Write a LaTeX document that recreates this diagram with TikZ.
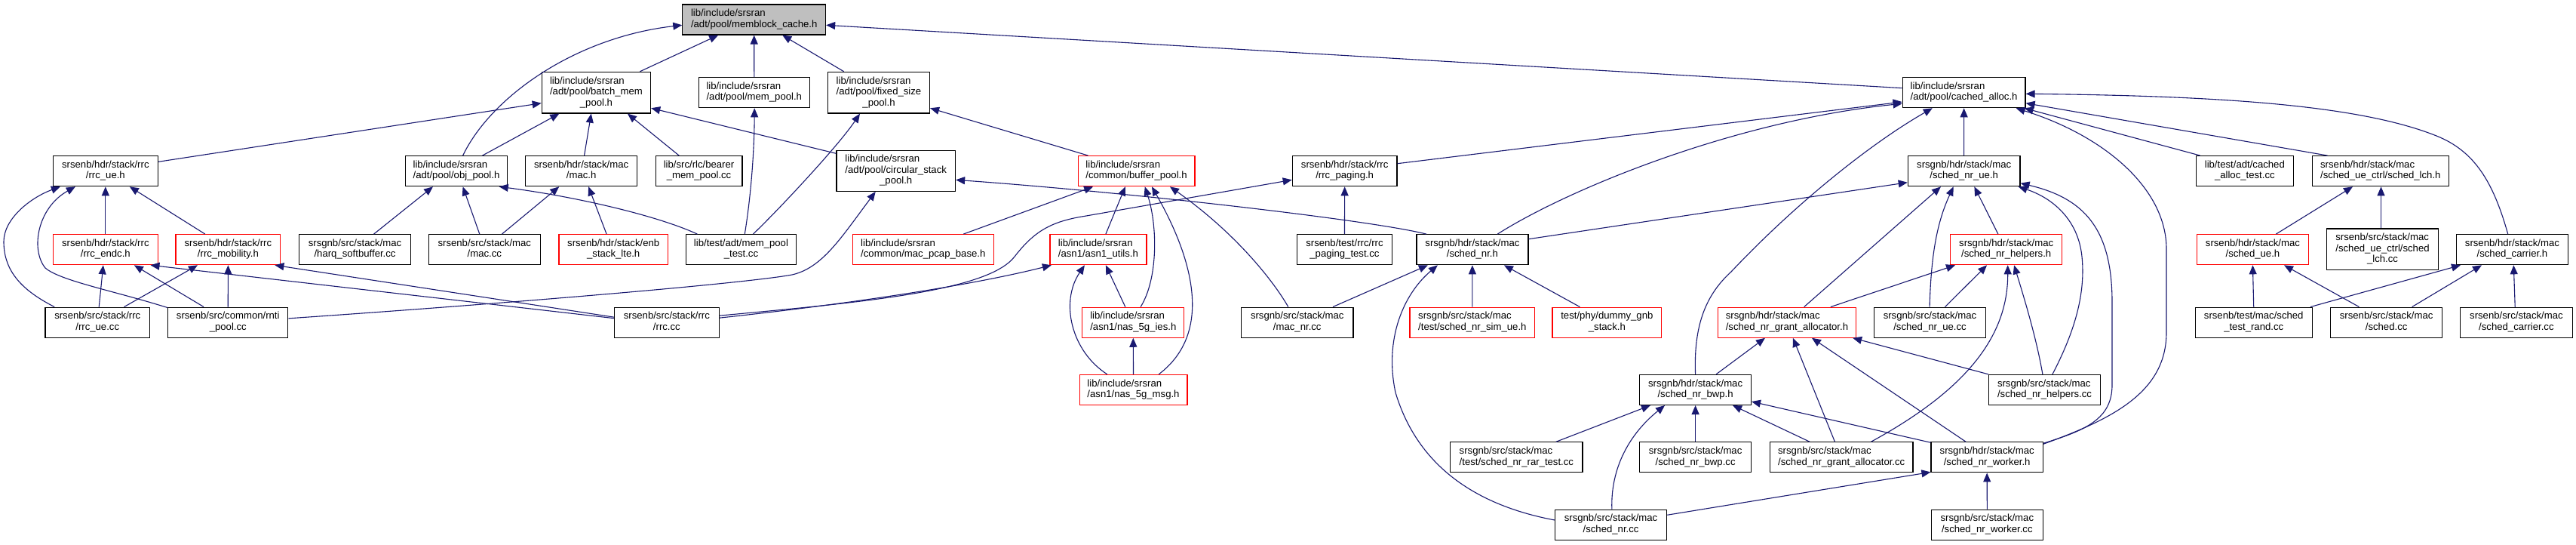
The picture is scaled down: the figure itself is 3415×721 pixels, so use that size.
\documentclass[tikz,border=0pt]{standalone}
\usepackage{fontspec}
\setmainfont{Liberation Sans}
\usetikzlibrary{arrows.meta,calc}
\definecolor{edgecol}{RGB}{25,25,112}
\definecolor{greyfill}{RGB}{191,191,191}
\newcommand\lbltwo[2]{\begin{tabular}{@{}l@{}}#1\\\multicolumn{1}{@{}c@{}}{#2}\end{tabular}}
\newcommand\lblthree[3]{\begin{tabular}{@{}l@{}}#1\\#2\\\multicolumn{1}{@{}c@{}}{#3}\end{tabular}}
\tikzset{
  box/.style={rectangle, draw=black, fill=white, line width=1.2pt, inner sep=0pt,
    minimum height=40pt, align=center, font=\fontsize{13.15}{14.5}\selectfont},
  redbox/.style={box, draw=red},
  greybox/.style={box, fill=greyfill},
  tall/.style={minimum height=54.7pt},
  edge/.style={draw=edgecol, line width=1.1pt, -{Triangle[length=12pt,width=10pt]}, fill=none},
}
\begin{document}
\begin{tikzpicture}[x=1pt,y=-1pt]
\fill[white] (0,0) rectangle (3415,721);
\useasboundingbox (0,0) rectangle (3415,721);

% row 0
\node[greybox, minimum width=189.7pt] (memblock) at (999.7,26) {\lbltwo{lib/include/srsran}{/adt/pool/memblock\_cache.h}};
% row 1
\node[box, tall, minimum width=144.3pt] (batch) at (790.45,122.65) {\lblthree{lib/include/srsran}{/adt/pool/batch\_mem}{\_pool.h}};
\node[box, minimum width=147.2pt] (mempool) at (999.8,122.7) {\lbltwo{lib/include/srsran}{/adt/pool/mem\_pool.h}};
\node[box, tall, minimum width=135pt] (fixed) at (1165,122.65) {\lblthree{lib/include/srsran}{/adt/pool/fixed\_size}{\_pool.h}};
\node[box, minimum width=162.8pt] (cached) at (2603.6,122.7) {\lbltwo{lib/include/srsran}{/adt/pool/cached\_alloc.h}};
% row 2
\node[box, minimum width=139.1pt] (rrcueh) at (139.85,226.7) {\lbltwo{srsenb/hdr/stack/rrc}{/rrc\_ue.h}};
\node[box, minimum width=135pt] (objpool) at (605,226.7) {\lbltwo{lib/include/srsran}{/adt/pool/obj\_pool.h}};
\node[box, minimum width=148.3pt] (mach) at (770.65,226.7) {\lbltwo{srsenb/hdr/stack/mac}{/mac.h}};
\node[box, minimum width=114.7pt] (bearer) at (926.55,226.7) {\lbltwo{lib/src/rlc/bearer}{\_mem\_pool.cc}};
\node[box, minimum width=157.6pt, minimum height=54pt] (circ) at (1187.7,226.3) {\lblthree{lib/include/srsran}{/adt/pool/circular\_stack}{\_pool.h}};
\node[redbox, minimum width=154.7pt] (bufpool) at (1506.55,226.7) {\lbltwo{lib/include/srsran}{/common/buffer\_pool.h}};
\node[box, minimum width=138.7pt] (paging) at (1782.65,226.7) {\lbltwo{srsenb/hdr/stack/rrc}{/rrc\_paging.h}};
\node[box, minimum width=148.7pt] (nrue) at (2603.65,226.7) {\lbltwo{srsgnb/hdr/stack/mac}{/sched\_nr\_ue.h}};
\node[box, minimum width=129.4pt] (catest) at (2975.8,226.7) {\lbltwo{lib/test/adt/cached}{\_alloc\_test.cc}};
\node[box, minimum width=181.4pt] (lchh) at (3155.8,226.7) {\lbltwo{srsenb/hdr/stack/mac}{/sched\_ue\_ctrl/sched\_lch.h}};
% row 3
\node[redbox, minimum width=139.1pt] (endc) at (139.85,330.7) {\lbltwo{srsenb/hdr/stack/rrc}{/rrc\_endc.h}};
\node[redbox, minimum width=138.8pt] (mobility) at (302.4,330.7) {\lbltwo{srsenb/hdr/stack/rrc}{/rrc\_mobility.h}};
\node[box, minimum width=147.9pt] (harq) at (470.55,330.7) {\lbltwo{srsgnb/src/stack/mac}{/harq\_softbuffer.cc}};
\node[box, minimum width=148.4pt] (maccc) at (642.3,330.7) {\lbltwo{srsenb/src/stack/mac}{/mac.cc}};
\node[redbox, minimum width=144.6pt] (enbstack) at (813.2,330.7) {\lbltwo{srsenb/hdr/stack/enb}{\_stack\_lte.h}};
\node[box, minimum width=146.5pt] (mptest) at (982.45,330.7) {\lbltwo{lib/test/adt/mem\_pool}{\_test.cc}};
\node[redbox, minimum width=186.8pt] (pcap) at (1223.8,330.7) {\lbltwo{lib/include/srsran}{/common/mac\_pcap\_base.h}};
\node[redbox, minimum width=128pt] (asn1) at (1455.9,330.7) {\lbltwo{lib/include/srsran}{/asn1/asn1\_utils.h}};
\node[box, minimum width=125.7pt] (pagtest) at (1782.45,330.7) {\lbltwo{srsenb/test/rrc/rrc}{\_paging\_test.cc}};
\node[box, minimum width=148pt] (nrh) at (1951.9,330.7) {\lbltwo{srsgnb/hdr/stack/mac}{/sched\_nr.h}};
\node[redbox, minimum width=148.3pt] (helpersh) at (2659.65,330.7) {\lbltwo{srsgnb/hdr/stack/mac}{/sched\_nr\_helpers.h}};
\node[redbox, minimum width=148.4pt] (schedue) at (2986.4,330.7) {\lbltwo{srsenb/hdr/stack/mac}{/sched\_ue.h}};
\node[box, tall, minimum width=148pt] (lchcc) at (3158.5,330.35) {\lblthree{srsenb/src/stack/mac}{/sched\_ue\_ctrl/sched}{\_lch.cc}};
\node[box, minimum width=148pt] (carrierh) at (3330.4,330.7) {\lbltwo{srsenb/hdr/stack/mac}{/sched\_carrier.h}};
% row 4
\node[box, minimum width=138.7pt] (rrcuecc) at (129.25,427.15) {\lbltwo{srsenb/src/stack/rrc}{/rrc\_ue.cc}};
\node[box, minimum width=159.1pt] (rnti) at (302.25,427.15) {\lbltwo{srsenb/src/common/rnti}{\_pool.cc}};
\node[box, minimum width=138.7pt] (rrccc) at (883.85,427.15) {\lbltwo{srsenb/src/stack/rrc}{/rrc.cc}};
\node[redbox, minimum width=135pt] (ies) at (1502.3,427.15) {\lbltwo{lib/include/srsran}{/asn1/nas\_5g\_ies.h}};
\node[box, minimum width=148.3pt] (macnr) at (1719.75,427.15) {\lbltwo{srsgnb/src/stack/mac}{/mac\_nr.cc}};
\node[redbox, minimum width=165.7pt] (simue) at (1951.85,427.15) {\lbltwo{srsgnb/src/stack/mac}{/test/sched\_nr\_sim\_ue.h}};
\node[redbox, minimum width=144.7pt] (dummy) at (2130.35,427.15) {\lbltwo{test/phy/dummy\_gnb}{\_stack.h}};
\node[redbox, minimum width=183.1pt] (gralloch) at (2368.95,427.15) {\lbltwo{srsgnb/hdr/stack/mac}{/sched\_nr\_grant\_allocator.h}};
\node[box, minimum width=148pt] (nruecc) at (2558.5,427.15) {\lbltwo{srsgnb/src/stack/mac}{/sched\_nr\_ue.cc}};
\node[box, minimum width=154.8pt] (testrand) at (2987.7,427.15) {\lbltwo{srsenb/test/mac/sched}{\_test\_rand.cc}};
\node[box, minimum width=148.4pt] (schedcc) at (3163.6,427.15) {\lbltwo{srsenb/src/stack/mac}{/sched.cc}};
\node[box, minimum width=148.4pt] (carriercc) at (3335.9,427.15) {\lbltwo{srsenb/src/stack/mac}{/sched\_carrier.cc}};
% row 5
\node[redbox, minimum width=142.8pt] (msg) at (1502.5,516.4) {\lbltwo{lib/include/srsran}{/asn1/nas\_5g\_msg.h}};
\node[box, minimum width=147.6pt] (bwph) at (2247.6,516.4) {\lbltwo{srsgnb/hdr/stack/mac}{/sched\_nr\_bwp.h}};
\node[box, minimum width=148pt] (helperscc) at (2710.5,516.4) {\lbltwo{srsgnb/src/stack/mac}{/sched\_nr\_helpers.cc}};
% row 6
\node[box, minimum width=175.3pt] (rartest) at (2010.35,605.85) {\lbltwo{srsgnb/src/stack/mac}{/test/sched\_nr\_rar\_test.cc}};
\node[box, minimum width=147.6pt] (bwpcc) at (2247.6,605.85) {\lbltwo{srsgnb/src/stack/mac}{/sched\_nr\_bwp.cc}};
\node[box, minimum width=189.4pt] (gralloccc) at (2441.2,605.85) {\lbltwo{srsgnb/src/stack/mac}{/sched\_nr\_grant\_allocator.cc}};
\node[box, minimum width=148.3pt] (workerh) at (2634.15,605.85) {\lbltwo{srsgnb/hdr/stack/mac}{/sched\_nr\_worker.h}};
% row 7
\node[box, minimum width=148.3pt] (nrcc) at (2135.55,695.15) {\lbltwo{srsgnb/src/stack/mac}{/sched\_nr.cc}};
\node[box, minimum width=148pt] (workercc) at (2634.3,695.15) {\lbltwo{srsgnb/src/stack/mac}{/sched\_nr\_worker.cc}};

% ---- edges ----
\draw[edge] ($(batch.north)+(58,0)$) -- ($(memblock.south)+(-47.5,0)$);
\draw[edge] (mempool.north) -- (memblock.south);
\draw[edge] ($(fixed.north)+(-46.4,0)$) -- ($(memblock.south)+(37.5,0)$);
\draw[edge] ($(objpool.north)+(8.6,0)$) .. controls (650,130) and (760,50) .. ($(memblock.west)+(0,7.3)$);
\draw[edge] ($(cached.west)+(0,-6)$) -- ($(memblock.east)+(0,7.3)$);
\draw[edge] ($(rrcueh.east)+(0,-12.4)$) -- ($(batch.west)+(0,14)$);
\draw[edge] ($(objpool.north)+(34.5,0)$) -- ($(batch.south)+(-49.1,0)$);
\draw[edge] ($(mach.north)+(3.9,0)$) -- ($(batch.south)+(-6.7,0)$);
\draw[edge] ($(bearer.north)+(-26.3,0)$) -- ($(batch.south)+(41.5,0)$);
\draw[edge] ($(circ.west)+(0,-23)$) -- ($(batch.east)+(0,20.6)$);
\draw[edge] ($(mptest.north)+(4.85,0)$) .. controls (997,250) and (1000,190) .. ($(mempool.south)+(0.4,0)$);
\draw[edge] ($(mptest.north)+(16,0)$) .. controls (1030,280) and (1110,195) .. ($(fixed.south)+(-25,0)$);
\draw[edge] ($(bufpool.north)+(-64,0)$) -- ($(fixed.east)+(0,20.6)$);
\draw[edge] ($(harq.north)+(25,0)$) -- ($(objpool.south)+(-31,0)$);
\draw[edge] ($(maccc.north)+(-6.5,0)$) -- ($(objpool.south)+(8.6,0)$);
\draw[edge] ($(mptest.north)+(-58,0)$) .. controls (870,285) and (760,260) .. ($(objpool.south)+(56.7,0)$);
\draw[edge] ($(maccc.north)+(23.1,0)$) -- ($(mach.south)+(-29.4,0)$);
\draw[edge] ($(enbstack.north)+(-9.1,0)$) -- ($(mach.south)+(9.5,0)$);
\draw[edge] ($(rnti.east)+(0,-5.3)$) .. controls (700,400) and (990,375) .. (1050,364) .. controls (1090,355) and (1115,315) .. ($(circ.south)+(-27,0)$);
\draw[edge] ($(nrh.north)+(-61,0)$) .. controls (1820,292) and (1500,255) .. ($(circ.east)+(0,12)$);
\draw[edge] ($(pcap.north)+(53.4,0)$) -- ($(bufpool.south)+(-57.4,0)$);
\draw[edge] ($(asn1.north)+(10,0)$) -- ($(bufpool.south)+(-14.8,0)$);
\draw[edge] ($(ies.north)+(9.8,0)$) .. controls (1535,370) and (1535,300) .. ($(bufpool.south)+(11.2,0)$);
\draw[edge] ($(msg.north)+(33.7,0)$) .. controls (1610,440) and (1580,340) .. ($(bufpool.south)+(20.4,0)$);
\draw[edge] ($(macnr.north)+(-12,0)$) .. controls (1690,375) and (1640,310) .. ($(bufpool.south)+(44.4,0)$);
\draw[edge] ($(rrccc.east)+(0,-6)$) .. controls (1150,400) and (1300,375) .. ($(asn1.south)+(-62,0)$);
\draw[edge] ($(rrccc.east)+(0,-9)$) .. controls (1150,400) and (1310,385) .. (1345,340) .. controls (1372,305) and (1395,293) .. (1440,286) -- ($(paging.west)+(0,11.6)$);
\draw[edge] ($(ies.north)+(-10.5,0)$) -- ($(asn1.south)+(10,0)$);
\draw[edge] ($(msg.north)+(-34.8,0)$) .. controls (1420,465) and (1405,400) .. ($(asn1.south)+(-18,0)$);
\draw[edge] (msg.north) -- (ies.south);
\draw[edge] (pagtest.north) -- (paging.south);
\draw[edge] ($(paging.east)+(0,-10)$) -- ($(cached.west)+(0,12.3)$);
\draw[edge] ($(nrh.north)+(33.3,0)$) .. controls (2080,250) and (2300,160) .. ($(cached.west)+(0,14.6)$);
\draw[edge] (bwph.north) .. controls (2245,430) and (2262,390) .. (2295,360) .. controls (2380,270) and (2480,190) .. ($(cached.south)+(-41.8,0)$);
\draw[edge] (nrue.north) -- (cached.south);
\draw[edge] ($(catest.north)+(-59,0)$) -- ($(cached.south east)+(-2,0)$);
\draw[edge] ($(lchh.north)+(-70.2,0)$) -- ($(cached.east)+(0,14)$);
\draw[edge] ($(carrierh.north)+(-5.7,0)$) .. controls (3305,240) and (3280,200) .. (3230,180) .. controls (3130,140) and (2950,127) .. ($(cached.east)+(0,1.6)$);
\draw[edge] ($(workerh.north east)+(0,3)$) .. controls (2800,555) and (2872,520) .. (2872,440) -- (2872,330) .. controls (2872,250) and (2790,180) .. ($(cached.south east)+(-13,0)$);
\draw[edge] ($(nrh.east)+(0,-14)$) -- ($(nrue.west)+(0,15)$);
\draw[edge] ($(gralloch.north)+(22.7,0)$) -- ($(nrue.south)+(-30.7,0)$);
\draw[edge] ($(nruecc.north)+(-0.4,0)$) .. controls (2560,330) and (2570,290) .. ($(nrue.south)+(-14,0)$);
\draw[edge] ($(helpersh.north)+(-10.8,0)$) -- ($(nrue.south)+(13.7,0)$);
\draw[edge] ($(helperscc.north)+(10.4,0)$) .. controls (2750,440) and (2765,390) .. (2760,340) .. controls (2755,290) and (2720,262) .. ($(nrue.south east)+(-3,0)$);
\draw[edge] ($(workerh.north east)+(0,2)$) .. controls (2765,570) and (2800,555) .. (2800,510) -- (2800,400) .. controls (2800,300) and (2760,262) .. ($(nrue.east)+(0,16)$);
\draw[edge] ($(gralloch.north)+(57.9,0)$) -- ($(helpersh.south)+(-67.6,0)$);
\draw[edge] ($(nruecc.north)+(20,0)$) -- ($(helpersh.south)+(-25.6,0)$);
\draw[edge] ($(gralloccc.north)+(39.2,0)$) .. controls (2600,520) and (2662,450) .. ($(helpersh.south)+(2,0)$);
\draw[edge] ($(helperscc.north)+(-2.6,0)$) .. controls (2700,450) and (2685,400) .. ($(helpersh.south)+(10.4,0)$);
\draw[edge] ($(bwph.north)+(27.5,0)$) -- ($(gralloch.south)+(-29,0)$);
\draw[edge] ($(gralloccc.north)+(-8.8,0)$) -- ($(gralloch.south)+(8,0)$);
\draw[edge] ($(workerh.north)+(-28,0)$) -- ($(gralloch.south)+(33,0)$);
\draw[edge] (helperscc.north west) -- ($(gralloch.south east)+(-5,0)$);
\draw[edge] ($(rartest.north)+(52.5,0)$) -- ($(bwph.south)+(-59.6,0)$);
\draw[edge] ($(nrcc.north)+(1.3,0)$) .. controls (2135,620) and (2160,575) .. ($(bwph.south)+(-40.6,0)$);
\draw[edge] (bwpcc.north) -- (bwph.south);
\draw[edge] ($(gralloccc.north)+(-42.1,0)$) -- ($(bwph.south)+(49.4,0)$);
\draw[edge] ($(workerh.north west)+(0,1)$) -- ($(bwph.east)+(0,15.6)$);
\draw[edge] ($(nrcc.east)+(0,-12.9)$) -- ($(workerh.south west)+(0,-1)$);
\draw[edge] (workercc.north) -- (workerh.south);
\draw[edge] ($(macnr.north)+(47.2,0)$) -- ($(nrh.south)+(-59,0)$);
\draw[edge] ($(nrcc.west)+(0,-6.2)$) .. controls (1960,670) and (1880,620) .. (1850,520) .. controls (1835,450) and (1860,390) .. ($(nrh.south)+(-46,0)$);
\draw[edge] (simue.north) -- (nrh.south);
\draw[edge] ($(dummy.north)+(-36,0)$) -- ($(nrh.south)+(42,0)$);
\draw[edge] (endc.north) -- (rrcueh.south);
\draw[edge] ($(mobility.north)+(-30.5,0)$) -- ($(rrcueh.south)+(32,0)$);
\draw[edge] ($(rrcuecc.north)+(-57.1,0)$) .. controls (30,385) and (5,360) .. (5,320) .. controls (5,290) and (40,262) .. ($(rrcueh.south)+(-59.9,0)$);
\draw[edge] ($(rnti.north west)+(0,1)$) .. controls (150,385) and (80,372) .. (60,355) .. controls (40,330) and (50,275) .. ($(rrcueh.south)+(-39.9,0)$);
\draw[edge] ($(rrcuecc.north)+(2,0)$) -- ($(endc.south)+(-3,0)$);
\draw[edge] ($(rnti.north)+(-32.2,0)$) -- ($(endc.south)+(38,0)$);
\draw[edge] ($(rrccc.west)+(0,-5.5)$) -- ($(endc.south east)+(-10.5,0)$);
\draw[edge] ($(rrcuecc.north)+(35.3,0)$) -- ($(mobility.south)+(-40.4,0)$);
\draw[edge] (rnti.north) -- (mobility.south);
\draw[edge] ($(rrccc.west)+(0,-7)$) -- ($(mobility.south)+(62,0)$);
\draw[edge] (testrand.north) -- (schedue.south);
\draw[edge] ($(schedcc.north)+(-36.2,0)$) -- ($(schedue.south)+(41.6,0)$);
\draw[edge] ($(schedue.north)+(30.9,0)$) -- ($(lchh.south)+(-36.8,0)$);
\draw[edge] ($(lchcc.north)+(-2,0)$) -- ($(lchh.south)+(0.7,0)$);
\draw[edge] ($(testrand.north)+(75.2,0)$) -- ($(carrierh.south)+(-68.4,0)$);
\draw[edge] ($(schedcc.north)+(34,0)$) -- ($(carrierh.south)+(-40.4,0)$);
\draw[edge] ($(carriercc.north)+(-1.7,0)$) -- ($(carrierh.south)+(1.9,0)$);
\end{tikzpicture}
\end{document}
